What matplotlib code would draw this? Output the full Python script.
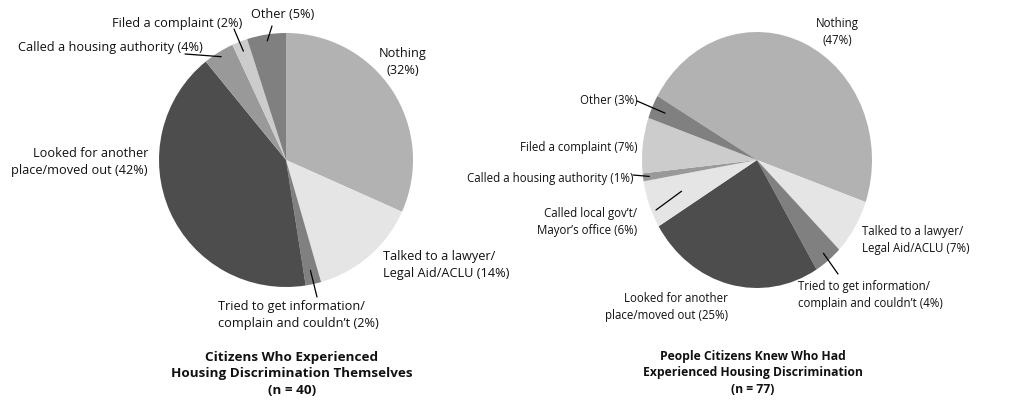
import numpy as np
import matplotlib
matplotlib.use("Agg")
import matplotlib.pyplot as plt

plt.rcParams['font.family'] = ['Open Sans', 'DejaVu Sans']

W, H = 1032, 402
DPI = 100

# Left pie: respondents' own experience (n = 40)
self_labels = ["Nothing", "Talked to a lawyer/Legal Aid/ACLU",
               "Tried to get information/complain and couldn't",
               "Looked for another place/moved out",
               "Called a housing authority", "Filed a complaint", "Other"]
self_values = [32, 14, 2, 42, 4, 2, 5]
self_colors = ["#b2b2b2", "#e5e5e5", "#808080", "#4d4d4d",
               "#999999", "#cccccc", "#808080"]

# Right pie: people respondents knew (n = 77)
known_labels = ["Nothing", "Talked to a lawyer/Legal Aid/ACLU",
                "Tried to get information/complain and couldn't",
                "Looked for another place/moved out",
                "Called local gov't/Mayor's office",
                "Called a housing authority", "Filed a complaint", "Other"]
known_values = [47, 7, 4, 25, 6, 1, 7, 3]
known_colors = ["#b2b2b2", "#e5e5e5", "#808080", "#4d4d4d",
                "#e5e5e5", "#999999", "#cccccc", "#808080"]

fig = plt.figure(figsize=(W / DPI, H / DPI), dpi=DPI)
fig.patch.set_facecolor("white")


def px_axes(cx, cy, rx, ry):
    """Axes whose unit circle maps to an ellipse centred at pixel (cx, cy)."""
    return fig.add_axes([(cx - rx) / W, (H - cy - ry) / H, 2 * rx / W, 2 * ry / H])


def draw_pie(ax, values, colors, start):
    wedges, _ = ax.pie(values, colors=colors, startangle=start,
                       counterclock=False, radius=1.0,
                       wedgeprops=dict(linewidth=0))
    ax.set_aspect('auto')
    ax.set_xlim(-1, 1)
    ax.set_ylim(-1, 1)
    return wedges


def mid_point(wedge, r):
    ang = np.deg2rad((wedge.theta1 + wedge.theta2) / 2)
    return (r * np.cos(ang), r * np.sin(ang))


def leader(ax, wedge, r, out_px):
    ax.annotate("", xy=mid_point(wedge, r), xycoords='data',
                xytext=(out_px[0], H - out_px[1]), textcoords='figure pixels',
                arrowprops=dict(arrowstyle='-', lw=0.9, color='black',
                                shrinkA=0, shrinkB=0),
                annotation_clip=False)


def make_label(size, spacing):
    def label(x, y, s, ha='left', bold=False, scale=1.0):
        fig.text(x / W, 1 - y / H, s, ha=ha, va='center', fontsize=size * scale,
                 fontweight='bold' if bold else 'normal', color='#111111',
                 linespacing=spacing, multialignment=ha)
    return label


# ---- left pie ----
labelL = make_label(9.2, 1.33)
axL = px_axes(286, 161, 127, 127)
wl = draw_pie(axL, self_values, self_colors, 90)

labelL(403, 62, "Nothing\n(32%)", ha='center')
labelL(383, 265, "Talked to a lawyer/\nLegal Aid/ACLU (14%)")
labelL(218, 315, "Tried to get information/\ncomplain and couldn\u2019t (2%)")
labelL(148, 162, "Looked for another\nplace/moved out (42%)", ha='right')
labelL(203, 48, "Called a housing authority (4%)", ha='right')
labelL(177, 24, "Filed a complaint (2%)", ha='center')
labelL(283, 14, "Other (5%)", ha='center')

leader(axL, wl[6], 0.95, (272, 27))
leader(axL, wl[5], 0.92, (234, 30))
leader(axL, wl[4], 0.96, (185, 55))
leader(axL, wl[2], 0.89, (317, 298))

labelL(292, 374, "Citizens Who Experienced\nHousing Discrimination Themselves\n(n = 40)",
       ha='center', bold=True, scale=1.054)

# ---- right pie ----
labelR = make_label(8.3, 1.38)
axR = px_axes(757, 161, 115, 128)
wr = draw_pie(axR, known_values, known_colors, 150)

labelR(837, 32, "Nothing\n(47%)", ha='center')
labelR(862, 240, "Talked to a lawyer/\nLegal Aid/ACLU (7%)")
labelR(798, 295, "Tried to get information/\ncomplain and couldn\u2019t (4%)")
labelR(728, 307, "Looked for another\nplace/moved out (25%)", ha='right')
labelR(637, 222, "Called local gov\u2019t/\nMayor\u2019s office (6%)", ha='right')
labelR(633, 179, "Called a housing authority (1%)", ha='right')
labelR(637, 147, "Filed a complaint (7%)", ha='right')
labelR(638, 100, "Other (3%)", ha='right')

leader(axR, wr[7], 0.88, (637, 102))
leader(axR, wr[5], 0.945, (633, 176))
leader(axR, wr[4], 0.70, (656, 211))
leader(axR, wr[2], 0.93, (838, 275))

labelR(753, 373, "People Citizens Knew Who Had\nExperienced Housing Discrimination\n(n = 77)",
       ha='center', bold=True, scale=1.055)

fig.savefig("out.png", dpi=DPI, facecolor="white")
